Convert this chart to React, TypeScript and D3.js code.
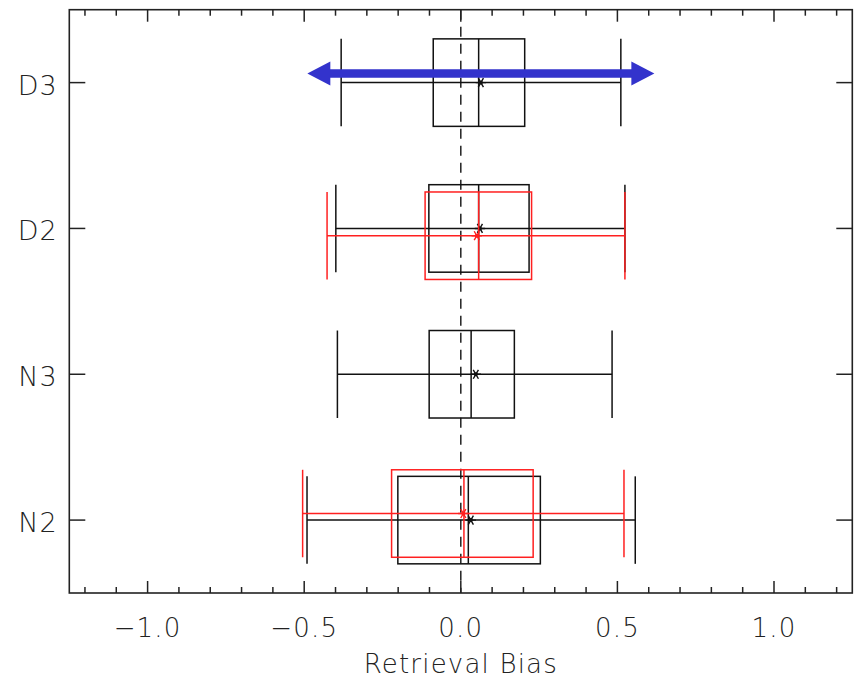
import React from "react";
import * as d3 from "d3";

// ---- data ----
const categories = ["N2", "N3", "D2", "D3"];
const categoryPos = [1, 2, 3, 4];

// black series: [low whisker, q1, median, q3, high whisker, mean]
const blackCats = ["D3", "D2", "N3", "N2"];
const blackLow = [-0.382, -0.399, -0.394, -0.491];
const blackQ1 = [-0.088, -0.102, -0.101, -0.201];
const blackMed = [0.057, 0.057, 0.033, 0.024];
const blackQ3 = [0.204, 0.218, 0.171, 0.254];
const blackHigh = [0.511, 0.524, 0.483, 0.557];
const blackMean = [0.064, 0.061, 0.048, 0.032];

// red series
const redCats = ["D2", "N2"];
const redShift = [-0.05, 0.045]; // vertical offset from category (y units)
const redLow = [-0.427, -0.505];
const redQ1 = [-0.114, -0.221];
const redMed = [0.057, 0.01];
const redQ3 = [0.226, 0.231];
const redHigh = [0.524, 0.521];
const redMean = [0.051, 0.008];

// blue arrow
const arrowFrom = -0.49;
const arrowTo = 0.618;
const arrowY = 4.062;

const xMajor = [-1.0, -0.5, 0.0, 0.5, 1.0];
const xMajorLabels = ["\u22121.0", "\u22120.5", "0.0", "0.5", "1.0"];
const xTitle = "Retrieval Bias";

const W = 856;
const H = 678;
const L = 69.3;
const R = 852.3;
const T = 9.7;
const B = 593;

const FONT = "'DejaVu Sans', sans-serif";

export default function App() {
  const x = d3.scaleLinear().domain([-1.25, 1.25]).range([L, R]);
  const y = d3.scaleLinear().domain([0.5, 4.5]).range([B, T]);
  const halfH = y(0) - y(0.3);

  const minor = d3.range(-12, 13).map((i) => i / 10).filter((v) => Math.abs(Math.round(v * 10) % 5) !== 0);

  const star = d3.symbol().type(d3.symbolAsterisk).size(75)();

  const boxes = (
    cats: string[],
    low: number[],
    q1: number[],
    med: number[],
    q3: number[],
    high: number[],
    mean: number[],
    shift: number[] | null,
    color: string
  ) =>
    cats.map((c, i) => {
      const yc = y(categoryPos[categories.indexOf(c)] + (shift ? shift[i] : 0));
      return (
        <g key={c + color} stroke={color} strokeWidth={1.5} fill="none">
          <line x1={x(low[i])} x2={x(high[i])} y1={yc} y2={yc} />
          <line x1={x(low[i])} x2={x(low[i])} y1={yc - halfH} y2={yc + halfH} />
          <line x1={x(high[i])} x2={x(high[i])} y1={yc - halfH} y2={yc + halfH} />
          <rect x={x(q1[i])} y={yc - halfH} width={x(q3[i]) - x(q1[i])} height={2 * halfH} />
          <line x1={x(med[i])} x2={x(med[i])} y1={yc - halfH} y2={yc + halfH} />
          <path d={star || ""} transform={`translate(${x(mean[i])},${yc}) rotate(90)`} strokeWidth={1.4} />
          <circle cx={x(mean[i])} cy={yc} r={2} fill={color} stroke="none" />
        </g>
      );
    });

  const ax0 = x(arrowFrom);
  const ax1 = x(arrowTo);
  const ay = y(arrowY);
  const headL = 23;
  const headH = 12;
  const shaftH = 4.3;
  const arrowPath = [
    [ax0, ay],
    [ax0 + headL, ay - headH],
    [ax0 + headL, ay - shaftH],
    [ax1 - headL, ay - shaftH],
    [ax1 - headL, ay - headH],
    [ax1, ay],
    [ax1 - headL, ay + headH],
    [ax1 - headL, ay + shaftH],
    [ax0 + headL, ay + shaftH],
    [ax0 + headL, ay + headH],
  ];

  const textProps = { fontFamily: FONT, fill: "#222", fontWeight: 200, letterSpacing: 1.2 } as const;

  return (
    <svg width={W} height={H} style={{ position: "absolute", left: 0, top: 0, background: "#fff" }}>
      <rect x={0} y={0} width={W} height={H} fill="#fff" />
      {/* zero dashed line */}
      <line x1={x(0)} x2={x(0)} y1={T} y2={B} stroke="#222" strokeWidth={1.5} strokeDasharray="10,7" />

      {boxes(blackCats, blackLow, blackQ1, blackMed, blackQ3, blackHigh, blackMean, null, "#111")}
      {boxes(redCats, redLow, redQ1, redMed, redQ3, redHigh, redMean, redShift, "#ff2020")}

      <path d={d3.line()(arrowPath as [number, number][]) + "Z"} fill="#3333cc" />

      {/* frame */}
      <rect x={L} y={T} width={R - L} height={B - T} fill="none" stroke="#222" strokeWidth={1.6} />

      {/* x ticks */}
      {xMajor.map((v) => (
        <g key={"M" + v} stroke="#222" strokeWidth={1.5}>
          <line x1={x(v)} x2={x(v)} y1={B} y2={B - 12} />
          <line x1={x(v)} x2={x(v)} y1={T} y2={T + 12} />
        </g>
      ))}
      {minor.map((v) => (
        <g key={"m" + v} stroke="#222" strokeWidth={1.5}>
          <line x1={x(v)} x2={x(v)} y1={B} y2={B - 6} />
          <line x1={x(v)} x2={x(v)} y1={T} y2={T + 6} />
        </g>
      ))}
      {xMajor.map((v, i) => (
        <text key={"l" + v} x={x(v)} y={637} textAnchor="middle" fontSize={26} {...textProps}>
          {xMajorLabels[i]}
        </text>
      ))}
      <text x={x(0)} y={673} textAnchor="middle" fontSize={26} {...textProps}>
        {xTitle}
      </text>

      {/* y ticks */}
      {categories.map((c, i) => (
        <g key={c}>
          <line x1={L} x2={L + 16} y1={y(categoryPos[i])} y2={y(categoryPos[i])} stroke="#222" strokeWidth={1.5} />
          <line x1={R} x2={R - 16} y1={y(categoryPos[i])} y2={y(categoryPos[i])} stroke="#222" strokeWidth={1.5} />
          <text x={58} y={y(categoryPos[i]) + 12} textAnchor="end" fontSize={27} {...textProps}>
            {c}
          </text>
        </g>
      ))}
    </svg>
  );
}
